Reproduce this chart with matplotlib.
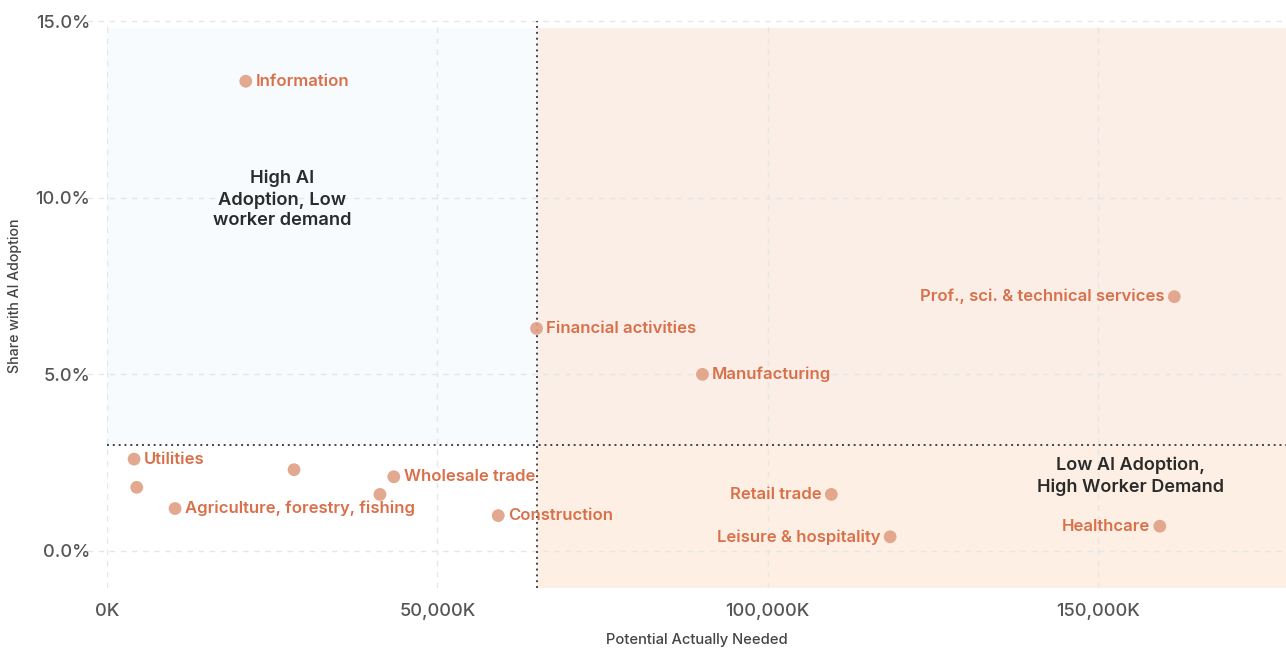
import matplotlib
matplotlib.use("Agg")
import matplotlib.pyplot as plt
from matplotlib.patches import Rectangle
from matplotlib.ticker import FuncFormatter

plt.rcParams['font.family'] = ['Inter', 'DejaVu Sans']

# Data (x in thousands of workers, y in % share with AI adoption)
industries = ["Information", "Utilities", "", "Agriculture, forestry, fishing", "", "",
              "Wholesale trade", "Construction", "Financial activities", "Manufacturing",
              "Retail trade", "Leisure & hospitality", "Healthcare",
              "Prof., sci. & technical services"]
potential_needed = [21000, 4100, 4500, 10300, 28300, 41300, 43400, 59200, 65000, 90100,
                    109600, 118500, 159300, 161500]
ai_share = [13.3, 2.6, 1.8, 1.2, 2.3, 1.6, 2.1, 1.0, 6.3, 5.0, 1.6, 0.4, 0.7, 7.2]
label_side = ["right", "right", "right", "right", "right", "right", "right", "right",
              "right", "right", "left", "left", "left", "left"]

x_ticks = [0, 50000, 100000, 150000]
y_ticks = [0, 5, 10, 15]
x_split = 65000
y_split = 3.0
x_max = 178400
y_min, y_max = -1.05, 15.49
shade_top = 14.8

fig = plt.figure(figsize=(12.86, 6.49), dpi=100)
ax = fig.add_axes([0.0832, 0.094, 0.9168, 0.90])
ax.set_xlim(0, x_max)
ax.set_ylim(y_min, y_max)

# quadrant shading
ax.add_patch(Rectangle((0, y_split), x_split, shade_top - y_split,
                       facecolor="#f7fbfe", edgecolor="none", zorder=0))
ax.add_patch(Rectangle((x_split, y_split), x_max - x_split, shade_top - y_split,
                       facecolor="#faeee7", edgecolor="none", zorder=0))
ax.add_patch(Rectangle((x_split, y_min), x_max - x_split, y_split - y_min,
                       facecolor="#fdefe3", edgecolor="none", zorder=0))

# grid
for xt in x_ticks:
    ax.plot([xt, xt], [y_min, 15], color="#e6e6e6", lw=1, ls=(0, (4, 4)), zorder=1)
for yt in y_ticks:
    ax.plot([-3000, x_max], [yt, yt], color="#e6e6e6", lw=1, ls=(0, (4, 4)), zorder=1,
            clip_on=False)

# split lines
ax.plot([x_split, x_split], [y_min, 15], color="#444444", lw=1.4, ls=(0, (1, 2)), zorder=2)
ax.plot([0, x_max], [y_split, y_split], color="#444444", lw=1.4, ls=(0, (1, 2)), zorder=2)

# points
ax.scatter(potential_needed, ai_share, s=85, color="#e0a084", alpha=0.9,
           edgecolors="none", zorder=3)

for name, x, y, side in zip(industries, potential_needed, ai_share, label_side):
    if not name:
        continue
    off = 7 if side == "right" else -7
    ax.annotate(name, (x, y), xytext=(off, 0), textcoords="offset points",
                ha="left" if side == "right" else "right", va="center",
                fontsize=12.0, color="#d9704a", fontweight="semibold", zorder=4)

# quadrant titles
ax.text(26500, 9.95, "High AI\nAdoption, Low\nworker demand", ha="center", va="center",
        fontsize=13.2, color="#2b2b2b", fontweight="semibold", linespacing=1.28, zorder=4)
ax.text(154800, 2.12, "Low AI Adoption,\nHigh Worker Demand", ha="center", va="center",
        fontsize=13.0, color="#2b2b2b", fontweight="semibold", linespacing=1.3, zorder=4)

# axes styling
for s in ax.spines.values():
    s.set_visible(False)
ax.set_xticks(x_ticks)
ax.set_yticks(y_ticks)
ax.xaxis.set_major_formatter(FuncFormatter(lambda v, p: f"{int(v):,}K"))
ax.yaxis.set_major_formatter(FuncFormatter(lambda v, p: f"{v:.1f}%"))
ax.tick_params(axis="both", length=0, labelsize=13.2, labelcolor="#555555")
for lab in ax.get_xticklabels() + ax.get_yticklabels():
    lab.set_fontweight("medium")
ax.tick_params(axis="x", pad=11)
ax.tick_params(axis="y", pad=12)
ax.set_xlabel("Potential Actually Needed", fontsize=10.6, color="#444444",
              fontweight="medium", labelpad=9)
ax.set_ylabel("Share with AI Adoption", fontsize=10.2, color="#444444",
              fontweight="medium", labelpad=10)

fig.savefig("out.png", dpi=100)
